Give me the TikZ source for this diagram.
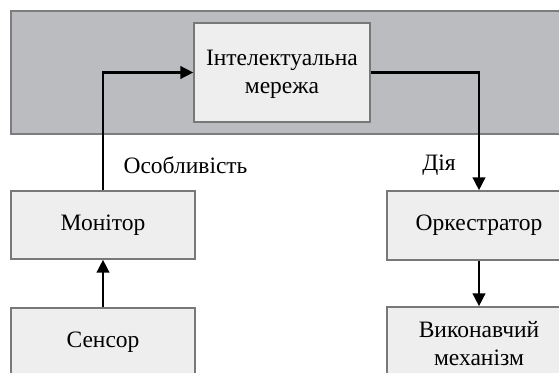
\documentclass[tikz,border=0pt]{standalone}
\usepackage{fontspec}
\setmainfont{Liberation Serif}
\usetikzlibrary{arrows.meta}
\definecolor{bandgray}{RGB}{187,188,192}
\definecolor{bandedge}{RGB}{125,125,128}
\definecolor{boxfill}{RGB}{238,238,238}
\definecolor{boxedge}{RGB}{120,120,120}
\tikzset{
  blk/.style={draw=boxedge, line width=1.4pt, fill=boxfill, inner sep=0pt,
    align=center, font=\fontsize{23.5}{27.5}\selectfont},
  conn/.style={line width=2.6pt, black, -{Triangle[length=13pt,width=12.5pt]}},
  lbl/.style={font=\fontsize{23.5}{27.5}\selectfont, inner sep=0pt},
}
\begin{document}
\begin{tikzpicture}[x=1pt,y=-1pt]
\useasboundingbox (0,0) rectangle (559,372);
\clip (0,0) rectangle (559,372);
\node[draw=bandedge, line width=1.6pt, fill=bandgray, minimum width=580pt, minimum height=123pt, inner sep=0pt] (band) at (301,72.5) {};
\node[blk, minimum width=176pt, minimum height=99pt, text height=44pt, text depth=3pt] (net) at (282,72.5) {Інтелектуальна\\мережа};
\node[blk, minimum width=184pt, minimum height=68pt] (mon) at (103,225) {Монітор};
\node[blk, minimum width=184pt, minimum height=68pt] (sen) at (103,342) {Сенсор};
\node[blk, minimum width=184pt, minimum height=69pt] (orc) at (479,225.5) {Оркестратор};
\node[blk, minimum width=184pt, minimum height=70pt, text height=46pt, text depth=0pt] (exe) at (479,342) {Виконавчий\\механізм};
\node[lbl] (feat) at (185.5,165) {Особливість};
\node[lbl] (act) at (439,165) {Дія};
\draw[conn] (mon.north) |- (net.west);
\draw[conn] (net.east) -| (orc.north);
\draw[conn] (sen.north) -- (mon.south);
\draw[conn] (orc.south) -- (exe.north);
\end{tikzpicture}
\end{document}
